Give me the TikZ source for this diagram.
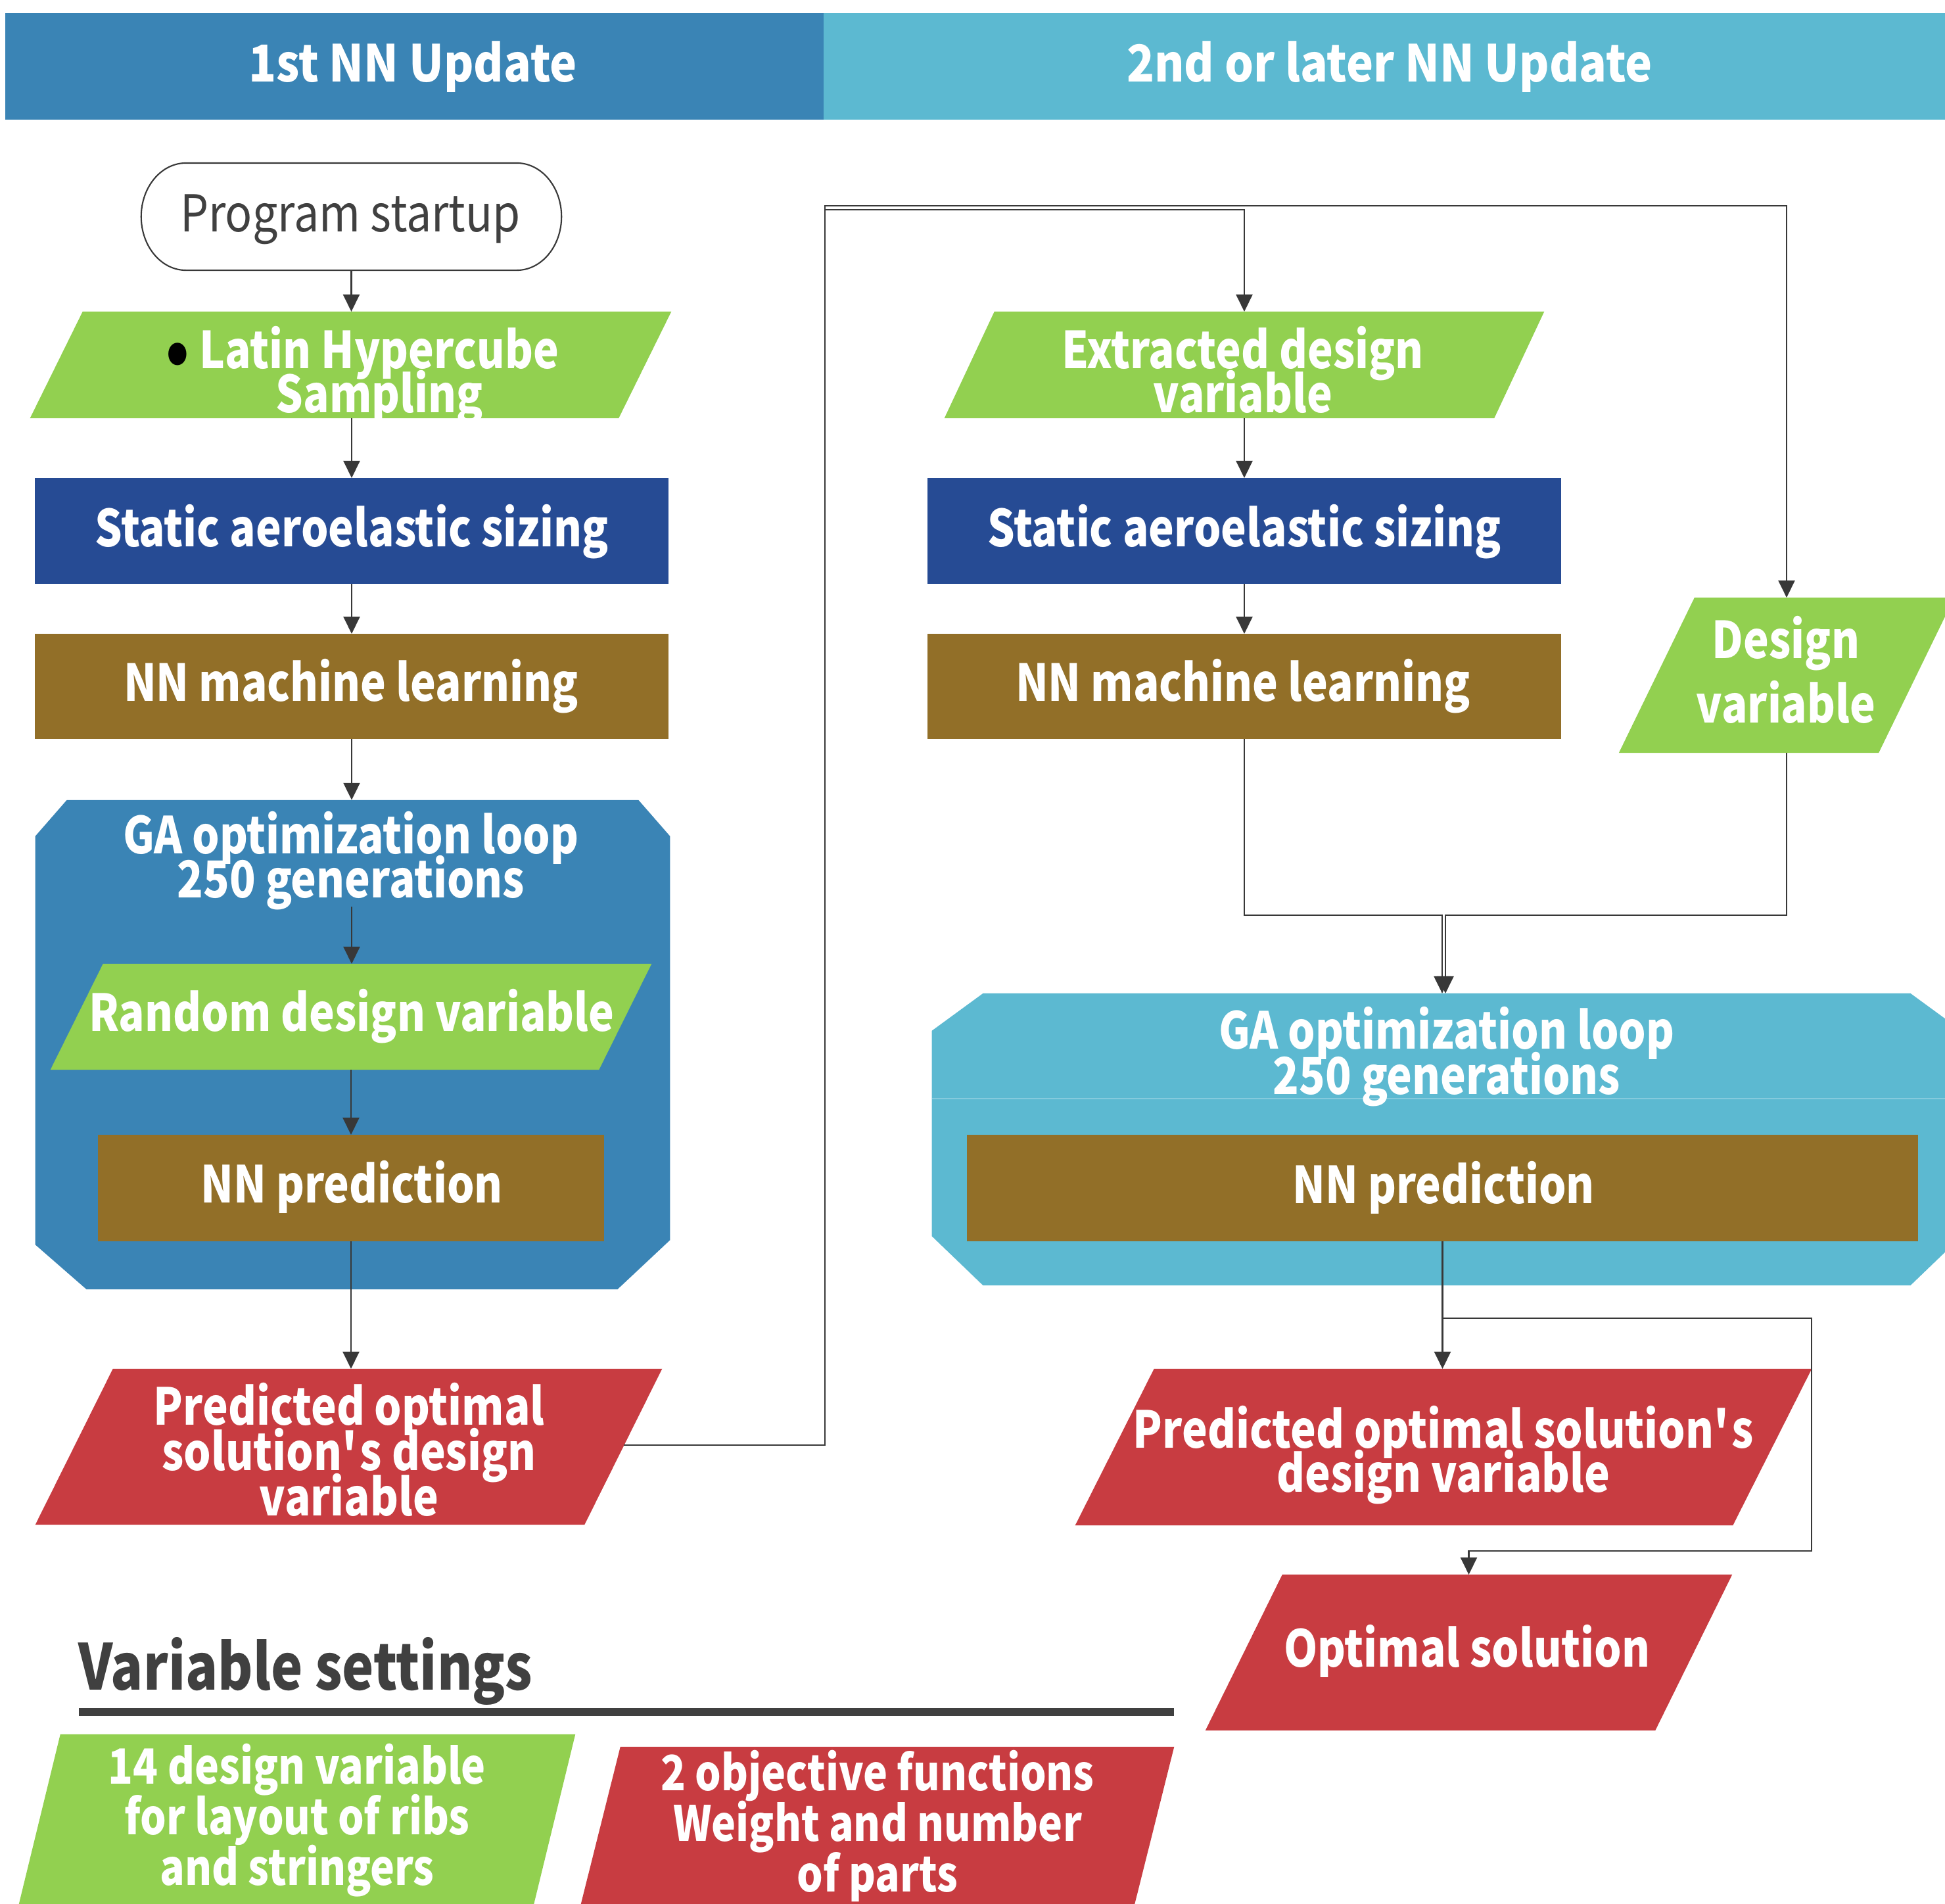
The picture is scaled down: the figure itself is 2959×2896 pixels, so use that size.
\documentclass[tikz,border=0pt]{standalone}
\usepackage{fontspec}
\newfontfamily\nsb{Noto Sans CJK JP}[FakeStretch=0.845]
\newfontfamily\nsh{Noto Sans CJK JP}[FakeStretch=0.895]
\newfontfamily\nsr{Noto Sans CJK JP}[FakeStretch=0.88]
\usetikzlibrary{arrows.meta,calc}
\pgfdeclarelayer{bg}
\pgfsetlayers{bg,main}
\definecolor{hblue}{HTML}{3A84B5}
\definecolor{hcyan}{HTML}{5CB9D1}
\definecolor{cgreen}{HTML}{92D050}
\definecolor{cnavy}{HTML}{264B94}
\definecolor{cbrown}{HTML}{926F28}
\definecolor{cred}{HTML}{C83C41}
\definecolor{cline}{HTML}{383838}
\definecolor{ctext}{HTML}{404040}
\newcommand\fb{\nsb\bfseries\fontsize{22}{18.8}\selectfont\lineskiplimit=-100pt\relax}
\newcommand\lsp[1]{\fontsize{22}{#1}\selectfont}
\newcommand\fr{\nsr\fontsize{22}{26}\selectfont}
\newcommand\fh{\nsh\bfseries\fontsize{22}{26}\selectfont}
\newcommand\para[3]{\fill[#1] (#2.south west) -- ($(#2.north west)+(#3,0)$) -- (#2.north east) -- ($(#2.south east)+(-#3,0)$) -- cycle;}
\tikzset{
  shp/.style={inner sep=0pt, outer sep=0pt, draw=none},
  lbl/.style={inner sep=0pt, outer sep=0pt, anchor=base, align=center, text=white, font=\fb},
  arr/.style={draw=cline, line width=0.65pt, -{Triangle[width=0.25cm,length=0.26cm]}},
}
\begin{document}
\begin{tikzpicture}[x=0.01cm, y=-0.01cm]
\useasboundingbox (0,0) rectangle (2959,2896);
% header
\node[shp, fill=hblue, minimum width=12.45cm, minimum height=1.62cm] (hdrL) at (630.5,101) {};
\node[lbl, font=\fh] (hdrLt) at (628,124) {1st NN Update};
\node[shp, fill=hcyan, minimum width=17.06cm, minimum height=1.62cm] (hdrR) at (2106,101) {};
\node[lbl, font=\fh] (hdrRt) at (2114,124) {2nd or later NN Update};
% left column
\node[shp, minimum width=6.39cm, minimum height=1.63cm] (start) at (534.5,329.5) {};
\node[lbl, text=ctext, font=\fr] (startt) at (533,352) {Program startup};
\node[shp, minimum width=9.75cm, minimum height=1.62cm] (lhs) at (533.5,555) {};
\node[lbl, font={\fb\lsp{18.8}}] (lhst) at (577,627) {\llap{\textcolor{black}{\raisebox{-2.6pt}{\fontsize{30}{30}\selectfont •}}\hspace{4.5pt}}Latin Hypercube\\Sampling};
\node[shp, fill=cnavy, minimum width=9.64cm, minimum height=1.61cm] (sas1) at (535,807.5) {};
\node[lbl] (sas1t) at (535,831) {Static aeroelastic sizing};
\node[shp, fill=cbrown, minimum width=9.64cm, minimum height=1.60cm] (nnml1) at (535,1044) {};
\node[lbl] (nnml1t) at (534,1066) {NN machine learning};
\node[shp, minimum width=9.65cm, minimum height=7.44cm] (ga1) at (536.5,1589) {};
\node[lbl, font={\fb\lsp{19}}] (ga1t) at (534,1365) {GA optimization loop\\250 generations};
\coordinate (ga1o) at (535,1379);
\node[shp, minimum width=9.14cm, minimum height=1.61cm] (rdv) at (534,1546.5) {};
\node[lbl] (rdvt) at (535,1568) {Random design variable};
\node[shp, fill=cbrown, minimum width=7.70cm, minimum height=1.62cm] (nnp1) at (534,1807) {};
\node[lbl] (nnp1t) at (535,1829) {NN prediction};
\node[shp, minimum width=9.53cm, minimum height=2.37cm] (pol1) at (530.5,2200.5) {};
\node[lbl, font={\fb\lsp{19.6}}] (pol1t) at (531,2305) {Predicted optimal\\solution\textquotesingle s design\\variable};
\coordinate (pol1r) at (949,2198);
% right column
\node[shp, minimum width=9.12cm, minimum height=1.62cm] (edv) at (1893,555) {};
\node[lbl, font={\fb\lsp{18.8}}] (edvt) at (1891,627) {Extracted design\\variable};
\node[shp, fill=cnavy, minimum width=9.64cm, minimum height=1.61cm] (sas2) at (1893,807.5) {};
\node[lbl] (sas2t) at (1893,831) {Static aeroelastic sizing};
\node[shp, fill=cbrown, minimum width=9.64cm, minimum height=1.60cm] (nnml2) at (1893,1044) {};
\node[lbl] (nnml2t) at (1891,1066) {NN machine learning};
\node[shp, minimum width=5.10cm, minimum height=2.36cm] (dv) at (2718,1027) {};
\node[lbl, font={\fb\lsp{27.6}}] (dvt) at (2717,1099) {Design\\variable};
\node[shp, minimum width=15.66cm, minimum height=4.44cm] (ga2) at (2201,1733) {};
\node[lbl, font={\fb\lsp{19.6}}] (ga2t) at (2201,1664) {GA optimization loop\\250 generations};
\node[shp, fill=cbrown, minimum width=14.47cm, minimum height=1.62cm] (nnp2) at (2194.5,1807) {};
\node[lbl] (nnp2t) at (2196,1830) {NN prediction};
\node[shp, minimum width=11.20cm, minimum height=2.38cm] (pol2) at (2196,2201) {};
\node[lbl, font={\fb\lsp{19}}] (pol2t) at (2196,2269) {Predicted optimal solution\textquotesingle s\\design variable};
\node[shp, minimum width=8.01cm, minimum height=2.37cm] (os) at (2234.5,2513.5) {};
\node[lbl] (ost) at (2232,2535) {Optimal solution};
\coordinate (br) at (2195,2005);
% variable settings
\node[lbl, anchor=base west, text=ctext, font={\nsb\bfseries\fontsize{27.4}{32}\selectfont}] (vst) at (120,2570) {Variable settings};
\node[shp, fill=ctext, minimum width=16.66cm, minimum height=0.12cm] (vsl) at (953,2604) {};
\node[shp, minimum width=8.46cm, minimum height=2.58cm] (vsg) at (452,2767) {};
\node[lbl, font={\fb\fontsize{21}{21.9}\selectfont}] (vsgt) at (452,2867) {14 design variable\\for layout of ribs\\and stringers};
\node[shp, minimum width=9.02cm, minimum height=2.39cm] (vsr) at (1335,2776.5) {};
\node[lbl, font={\fb\fontsize{21}{21.9}\selectfont}] (vsrt) at (1335,2877) {2 objective functions\\Weight and number\\of parts};
% background shapes
\begin{pgfonlayer}{bg}
\fill[white] (0,0) rectangle (2959,2896);
\draw[cline, line width=0.6pt] ($(start.north west)+(68,0)$) -- ($(start.north east)+(-68,0)$) arc[start angle=90,end angle=-90,x radius=0.68cm,y radius=0.815cm] -- ($(start.south west)+(68,0)$) arc[start angle=270,end angle=90,x radius=0.68cm,y radius=0.815cm] -- cycle;
\para{cgreen}{lhs}{80}
\fill[hblue] ($(ga1.north west)+(48,0)$) -- ($(ga1.north east)+(-48,0)$) -- ($(ga1.north east)+(0,55)$) -- ($(ga1.south east)+(0,-75)$) -- ($(ga1.south east)+(-80,0)$) -- ($(ga1.south west)+(78,0)$) -- ($(ga1.south west)+(0,-68)$) -- ($(ga1.north west)+(0,55)$) -- cycle;
\para{cgreen}{rdv}{80}
\para{cred}{pol1}{118}
\para{cgreen}{edv}{76}
\para{cgreen}{dv}{115}
\fill[hcyan] ($(ga2.north west)+(78,0)$) -- ($(ga2.north east)+(-78,0)$) -- ($(ga2.north east)+(0,57)$) -- ($(ga2.south east)+(0,-75)$) -- ($(ga2.south east)+(-78,0)$) -- ($(ga2.south west)+(78,0)$) -- ($(ga2.south west)+(0,-75)$) -- ($(ga2.north west)+(0,57)$) -- cycle;
\draw[hcyan!75!white, line width=0.4pt] ($(ga2.north west)+(0,160)$) -- ($(ga2.north east)+(0,160)$);
\para{cred}{pol2}{120}
\para{cred}{os}{117}
\para{cgreen}{vsg}{63}
\para{cred}{vsr}{60}
\end{pgfonlayer}
% connectors
\draw[arr] (start.south) -- (start.south |- lhs.north);
\draw[arr] (sas1.north |- lhs.south) -- (sas1.north);
\draw[arr] (sas1.south) -- (nnml1.north);
\draw[arr] (nnml1.south) -- (nnml1.south |- ga1.north);
\draw[arr] (ga1o) -- (ga1o |- rdv.north);
\draw[arr] (nnp1.north |- rdv.south) -- (nnp1.north);
\draw[arr] (nnp1.south) -- (nnp1.south |- pol1.north);
\draw[arr] (pol1r) -| (1255,313) -| (dv.north);
\draw[arr] (pol1r) -| (1255,319) -| (edv.north);
\draw[arr] (edv.south) -- (sas2.north);
\draw[arr] (sas2.south) -- (nnml2.north);
\draw[arr] (nnml2.south) |- (2194,1392) -- ($(ga2.north)+(-7,0)$);
\draw[arr] (dv.south) |- (2199,1392) -- ($(ga2.north)+(-2,0)$);
\draw[arr] (nnp2.south) -- (nnp2.south |- pol2.north);
\draw[arr] (br) -- (2756,2005) -- (2756,2359) -| (os.north);
\end{tikzpicture}
\end{document}
